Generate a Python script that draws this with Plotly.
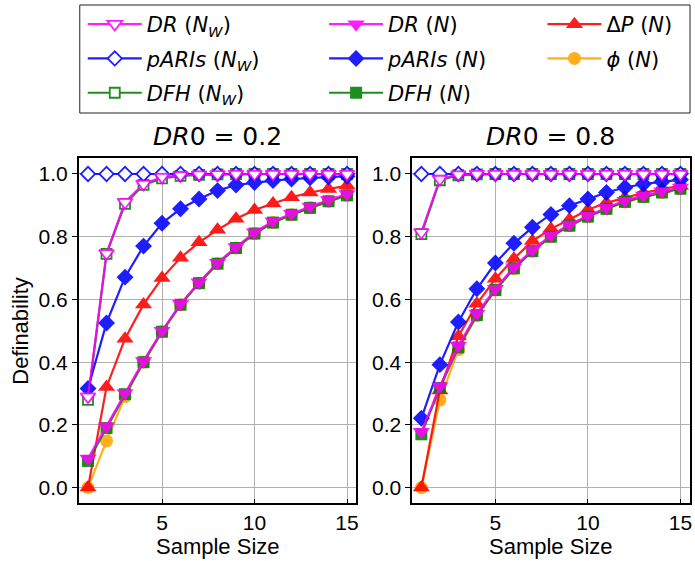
import plotly.graph_objects as go

# Sample sizes on the x axis
sample_size = list(range(1, 16))

# Panel DR0 = 0.2
dr_nw_02 = [0.29, 0.747, 0.91, 0.968, 0.99, 0.996, 0.998, 0.999, 1.0, 1.0, 1.0, 1.0, 1.0, 1.0, 1.0]
paris_nw_02 = [1.0] * 15
dfh_nw_02 = [0.28, 0.745, 0.905, 0.965, 0.986, 0.994, 0.997, 0.999, 1.0, 1.0, 1.0, 1.0, 1.0, 1.0, 1.0]
dr_n_02 = [0.093, 0.196, 0.302, 0.404, 0.50, 0.586, 0.655, 0.717, 0.767, 0.814, 0.849, 0.873, 0.896, 0.917, 0.936]
paris_n_02 = [0.316, 0.525, 0.671, 0.770, 0.843, 0.889, 0.92, 0.947, 0.965, 0.973, 0.979, 0.984, 0.988, 0.99, 0.993]
dfh_n_02 = [0.085, 0.19, 0.298, 0.40, 0.497, 0.583, 0.652, 0.714, 0.764, 0.81, 0.845, 0.87, 0.892, 0.913, 0.932]
dp_n_02 = [0.0, 0.321, 0.475, 0.584, 0.668, 0.733, 0.782, 0.822, 0.857, 0.885, 0.906, 0.926, 0.941, 0.952, 0.963]
phi_n_02 = [0.0, 0.149, 0.29, 0.40, 0.497, 0.583, 0.652, 0.714, 0.764, 0.81, 0.845, 0.87, 0.892, 0.913, 0.932]

# Panel DR0 = 0.8
dr_nw_08 = [0.814, 0.984, 0.998, 1.0, 1.0, 1.0, 1.0, 1.0, 1.0, 1.0, 1.0, 1.0, 1.0, 1.0, 1.0]
paris_nw_08 = [1.0] * 15
dfh_nw_08 = [0.808, 0.98, 0.996, 0.999, 1.0, 1.0, 1.0, 1.0, 1.0, 1.0, 1.0, 1.0, 1.0, 1.0, 1.0]
dr_n_08 = [0.178, 0.323, 0.452, 0.555, 0.634, 0.703, 0.758, 0.804, 0.839, 0.867, 0.892, 0.915, 0.931, 0.945, 0.957]
paris_n_08 = [0.221, 0.392, 0.528, 0.634, 0.716, 0.779, 0.830, 0.871, 0.899, 0.920, 0.941, 0.957, 0.968, 0.975, 0.982]
dfh_n_08 = [0.17, 0.318, 0.447, 0.55, 0.63, 0.699, 0.754, 0.80, 0.835, 0.864, 0.889, 0.911, 0.927, 0.941, 0.953]
dp_n_08 = [0.0, 0.31, 0.483, 0.586, 0.666, 0.73, 0.786, 0.825, 0.855, 0.886, 0.908, 0.925, 0.94, 0.952, 0.962]
phi_n_08 = [0.0, 0.279, 0.44, 0.548, 0.63, 0.699, 0.754, 0.80, 0.835, 0.864, 0.889, 0.911, 0.927, 0.941, 0.953]

panel_titles = ["<i>DR</i>0 = 0.2", "<i>DR</i>0 = 0.8"]
y_ticks = [0.0, 0.2, 0.4, 0.6, 0.8, 1.0]
x_ticks = [5, 10, 15]

W, H = 695, 561
MATH_FONT = "DejaVu Sans"
AX_FONT = "Liberation Sans, Arial"

# (colour, symbol, hollow, legend, rank, key) in drawing order
series = [
    ("#FFA500", "circle", False, "legend3", 2, "phi"),
    ("#FF0000", "triangle-up", False, "legend3", 1, "dp"),
    ("#008000", "square", False, "legend2", 3, "dfh_n"),
    ("#008000", "square", True, "legend", 3, "dfh_nw"),
    ("#0000FF", "diamond", False, "legend2", 2, "paris_n"),
    ("#0000FF", "diamond", True, "legend", 2, "paris_nw"),
    ("#FF00FF", "triangle-down", False, "legend2", 1, "dr_n"),
    ("#FF00FF", "triangle-down", True, "legend", 1, "dr_nw"),
]

labels = {
    "dr_nw": "<i>DR</i> (<i>N</i><sub><i>W</i></sub>)",
    "paris_nw": "<i>pARIs</i> (<i>N</i><sub><i>W</i></sub>)",
    "dfh_nw": "<i>DFH</i> (<i>N</i><sub><i>W</i></sub>)",
    "dr_n": "<i>DR</i> (<i>N</i>)",
    "paris_n": "<i>pARIs</i> (<i>N</i>)",
    "dfh_n": "<i>DFH</i> (<i>N</i>)",
    "dp": "Δ<i>P</i> (<i>N</i>)",
    "phi": "<i>ϕ</i> (<i>N</i>)",
}

panel_data = [
    {"phi": phi_n_02, "dp": dp_n_02, "dfh_n": dfh_n_02, "dfh_nw": dfh_nw_02,
     "paris_n": paris_n_02, "paris_nw": paris_nw_02, "dr_n": dr_n_02, "dr_nw": dr_nw_02},
    {"phi": phi_n_08, "dp": dp_n_08, "dfh_n": dfh_n_08, "dfh_nw": dfh_nw_08,
     "paris_n": paris_n_08, "paris_nw": paris_nw_08, "dr_n": dr_n_08, "dr_nw": dr_nw_08},
]

sizes = {"circle": 13, "triangle-up": 15, "triangle-down": 15, "square": 12, "diamond": 13}

fig = go.Figure()
for p, data in enumerate(panel_data):
    xa = "x" if p == 0 else "x2"
    ya = "y" if p == 0 else "y2"
    for colour, symbol, hollow, leg, rank, key in series:
        fig.add_trace(go.Scatter(
            x=sample_size, y=data[key], xaxis=xa, yaxis=ya,
            mode="lines+markers",
            name=labels[key],
            legend=leg, legendrank=rank, legendgroup=key,
            showlegend=(p == 0),
            opacity=0.88,
            line=dict(color=colour, width=2.2),
            marker=dict(
                symbol=symbol,
                size=sizes[symbol] - (2 if hollow else 0),
                color="white" if hollow else colour,
                line=dict(color=colour, width=1.8 if hollow else 0),
            ),
        ))

x_domains = [[79 / W, 357.3 / W], [413.3 / W, 691.7 / W]]
y_domain = [1 - 503.3 / H, 1 - 158.3 / H]

axis_common = dict(
    showline=True, linecolor="black", linewidth=1.5, mirror=True,
    showgrid=True, gridcolor="#b0b0b0", gridwidth=1,
    zeroline=False, tickcolor="black", ticklen=5, tickwidth=1.2,
    tickfont=dict(family=AX_FONT, size=21, color="black"),
)

fig.update_layout(
    width=W, height=H, autosize=False,
    margin=dict(l=0, r=0, t=0, b=0),
    paper_bgcolor="white", plot_bgcolor="white",
    xaxis=dict(domain=x_domains[0], range=[0.5, 15.5], tickvals=x_ticks,
               ticks="inside", anchor="y", **axis_common),
    yaxis=dict(domain=y_domain, range=[-0.05, 1.05], tickvals=y_ticks,
               tickformat=".1f", ticks="outside", anchor="x", **axis_common),
    xaxis2=dict(domain=x_domains[1], range=[0.5, 15.5], tickvals=x_ticks,
                ticks="inside", anchor="y2", **axis_common),
    yaxis2=dict(domain=y_domain, range=[-0.05, 1.05], tickvals=y_ticks,
                tickformat=".1f", ticks="outside", anchor="x2", **axis_common),
)

legend_common = dict(
    orientation="v", yanchor="top", xanchor="left",
    bgcolor="rgba(0,0,0,0)", borderwidth=0,
    font=dict(family=MATH_FONT, size=21, color="black"),
    tracegroupgap=4, itemsizing="trace", itemwidth=54,
)
fig.update_layout(
    legend=dict(x=83 / W, y=1 - 4 / H, **legend_common),
    legend2=dict(x=325 / W, y=1 - 4 / H, **legend_common),
    legend3=dict(x=544 / W, y=1 - 4 / H, **legend_common),
)

# Legend frame around the three columns
fig.add_shape(type="rect", xref="paper", yref="paper",
              x0=80 / W, x1=692 / W, y0=1 - 113 / H, y1=1 - 5 / H,
              line=dict(color="#222222", width=1), fillcolor="rgba(0,0,0,0)")

annotations = []
for p, title in enumerate(panel_titles):
    cx = (x_domains[p][0] + x_domains[p][1]) / 2
    annotations.append(dict(text=title, x=cx, y=1 - 136 / H, xref="paper", yref="paper",
                            xanchor="center", yanchor="middle", showarrow=False,
                            font=dict(family=MATH_FONT, size=25, color="black")))
    annotations.append(dict(text="Sample Size", x=cx, y=1 - 546 / H, xref="paper", yref="paper",
                            xanchor="center", yanchor="middle", showarrow=False,
                            font=dict(family=AX_FONT, size=22, color="black")))
annotations.append(dict(text="Definability", x=21 / W, y=(y_domain[0] + y_domain[1]) / 2,
                        xref="paper", yref="paper", xanchor="center", yanchor="middle",
                        textangle=-90, showarrow=False,
                        font=dict(family=AX_FONT, size=22, color="black")))
fig.update_layout(annotations=annotations)

fig.write_html("out.html")
